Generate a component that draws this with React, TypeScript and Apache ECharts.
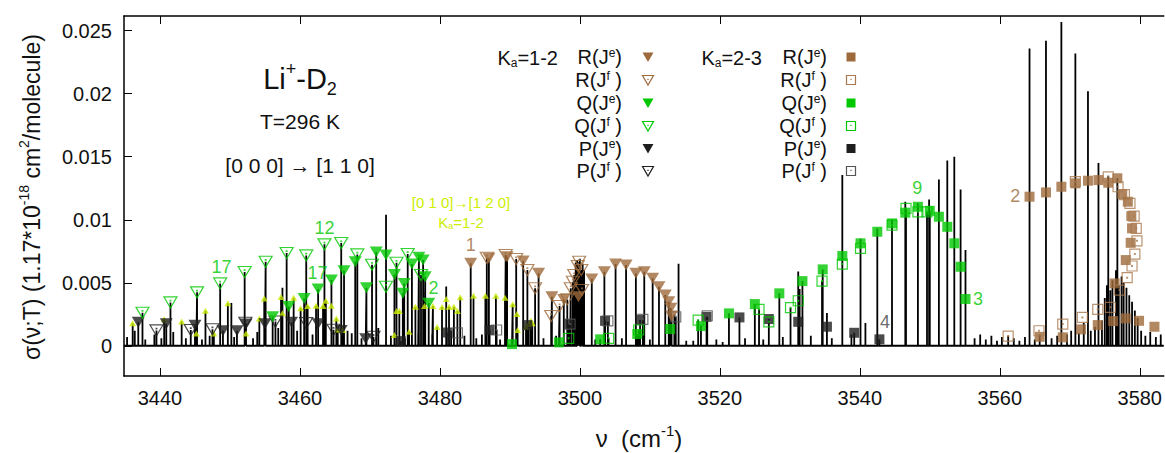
import React, { useEffect, useRef } from "react";
import * as echarts from "echarts";

const FONT = "'Liberation Sans', Arial, Helvetica, sans-serif";
const BROWN = "#9e6a3b";
const BROWN_H = "#a8784e";
const GREEN = "#00c800";
const BLACK = "#1e1e1e";
const GRAY = "#555555";
const YELLOW = "#ccee00";

const xTicks = [3440, 3460, 3480, 3500, 3520, 3540, 3560, 3580];
const yTicks = [0, 0.005, 0.01, 0.015, 0.02, 0.025];
const X_MIN = 3434.86;
const X_MAX = 3583.43;
const Y_MIN = -0.0024;
const Y_MAX = 0.02617;

// Ka = 1-2 (triangles)
const ka12_RJe: number[][] = [[3484.4,0.00654],[3487.0,0.00694],[3489.6,0.00706],[3491.9,0.00672],[3494.1,0.00575],[3496.0,0.00389],[3497.7,0.00368],[3499.8,0.00389],[3501.7,0.00529],[3503.5,0.00587],[3505.1,0.00648],[3506.6,0.0064],[3508.0,0.00575],[3509.2,0.00587],[3510.4,0.00535],[3511.3,0.00468],[3512.2,0.00402],[3512.7,0.00349],[3513.0,0.00297],[3513.1,0.00236]];
const ka12_RJf: number[][] = [[3486.7,0.00698],[3489.4,0.0072],[3490.9,0.00688],[3492.5,0.00601],[3493.6,0.00456],[3495.9,0.00236],[3497.1,0.00315],[3498.2,0.00368],[3498.7,0.00456],[3499.0,0.00508],[3499.2,0.00561],[3499.7,0.00633],[3499.9,0.00667],[3500.2,0.00601],[3500.3,0.00442]];
const ka12_QJe: number[][] = [[3456.1,0.0023],[3458.4,0.00311],[3460.6,0.00376],[3462.6,0.0045],[3464.5,0.00521],[3466.3,0.00595],[3467.9,0.00667],[3469.5,0.0046],[3470.9,0.00744],[3472.3,0.0072],[3473.5,0.00565],[3474.7,0.00416],[3474.9,0.00495],[3476.0,0.00648],[3477.0,0.00702],[3477.6,0.0068],[3477.9,0.00548],[3478.4,0.00337]];
const ka12_QJf: number[][] = [[3437.5,0.00262],[3441.5,0.00344],[3445.3,0.00424],[3448.6,0.00495],[3452.1,0.00585],[3455.1,0.00667],[3458.1,0.00736],[3460.9,0.00717],[3463.5,0.00805],[3465.9,0.00815],[3468.2,0.00725],[3470.3,0.00643],[3472.3,0.00468],[3473.8,0.00659],[3475.4,0.00728],[3477.3,0.00561]];
const ka12_PJe: number[][] = [[3436.9,0.00187],[3440.9,0.00175],[3445.0,0.00162],[3449.0,0.00119],[3451.0,0.00119],[3452.3,0.00172],[3455.0,0.00175],[3458.8,0.00187],[3462.6,0.00175],[3465.9,0.00122],[3469.4,0.00056]];
const ka12_PJf: number[][] = [[3439.5,0.00122],[3444.4,0.00125],[3447.5,0.00131],[3452.2,0.00183],[3456.5,0.00192],[3460.9,0.0018],[3464.8,0.00127],[3470.5,0.00071]];

// Ka = 2-3 (squares)
const ka23_RJe: number[][] = [[3564.25,0.01183],[3566.6,0.01217],[3568.8,0.01262],[3570.8,0.01289],[3572.6,0.0131],[3574.1,0.01315],[3575.5,0.01294],[3576.8,0.01329],[3577.5,0.01204],[3578.3,0.01143],[3578.8,0.01029],[3578.9,0.00932],[3578.7,0.00817],[3578.0,0.0068],[3576.4,0.00495],[3565.7,0.00071],[3569.0,0.00067],[3571.6,0.0013],[3574.0,0.00164],[3576.2,0.00196],[3578.0,0.00217],[3579.9,0.00198],[3582.1,0.00151]];
const ka23_RJf: number[][] = [[3570.8,0.01302],[3575.5,0.01341],[3576.9,0.01262],[3577.8,0.012],[3578.6,0.0113],[3579.2,0.01029],[3579.5,0.00932],[3579.6,0.00833],[3579.3,0.00728],[3578.9,0.00633],[3578.2,0.0054],[3577.1,0.00442],[3561.2,0.00077],[3565.6,0.00119],[3569.0,0.00172],[3571.8,0.00225],[3574.0,0.00289],[3575.8,0.00305]];
const ka23_QJe: number[][] = [[3490.3,0.00013],[3497.0,0.00027],[3502.9,0.00051],[3508.2,0.00093],[3512.9,0.00133],[3517.3,0.00156],[3521.3,0.00257],[3525.0,0.00331],[3528.5,0.00416],[3531.8,0.00513],[3534.7,0.00606],[3537.5,0.00712],[3540.1,0.00813],[3542.5,0.00905],[3544.6,0.00971],[3546.5,0.01056],[3548.3,0.01103],[3550.0,0.01071],[3551.3,0.01024],[3552.5,0.00944],[3553.5,0.00813],[3554.4,0.00627],[3555.1,0.00371]];
const ka23_QJf: number[][] = [[3498.4,0.00059],[3504.1,0.00059],[3508.4,0.00125],[3516.9,0.00204],[3525.6,0.00289],[3527.0,0.0019],[3530.1,0.00302],[3531.2,0.00357],[3534.6,0.00513],[3537.5,0.00648],[3540.1,0.00773],[3544.6,0.00958],[3546.6,0.0109],[3548.3,0.01063],[3549.6,0.01063]];
const ka23_PJe: number[][] = [[3474.4,0.00037],[3481.0,0.00105],[3487.1,0.00125],[3492.5,0.00164],[3498.4,0.00172],[3503.6,0.00198],[3508.6,0.00204],[3518.1,0.0023],[3522.8,0.00225],[3527.0,0.00212],[3531.2,0.0019],[3535.3,0.00151],[3539.2,0.00103],[3542.8,0.00051]];
const ka23_PJf: number[][] = [[3482.5,0.00103],[3488.1,0.00125],[3498.6,0.00172],[3504.0,0.00198],[3509.0,0.0021],[3513.7,0.0023],[3518.2,0.00238]];

// [0 1 0] -> [1 2 0], Ka = 1-2 hot band (small triangles)
const hotBand: number[][] = [[3436.1,0.00178],[3440.6,0.0021],[3443.1,0.00192],[3445.2,0.00097],[3446.5,0.00278],[3447.7,0.00098],[3449.7,0.00337],[3452.3,0.00098],[3454.2,0.00217],[3454.9,0.00376],[3457.3,0.00387],[3457.5,0.00257],[3459.1,0.00381],[3460.1,0.00297],[3461.1,0.00315],[3462.3,0.00317],[3463.3,0.00315],[3463.7,0.00357],[3464.5,0.00317],[3465.2,0.00217],[3465.4,0.0013],[3466.1,0.00125],[3473.5,0.00085],[3473.8,0.00275],[3474.2,0.00275],[3475.6,0.00111],[3476.5,0.0031],[3477.8,0.00315],[3479.0,0.00315],[3479.6,0.00148],[3480.3,0.00307],[3480.9,0.00371],[3481.3,0.0031],[3482.0,0.0031],[3482.5,0.00275],[3482.9,0.00384],[3484.8,0.00397],[3486.5,0.00397],[3488.0,0.00397],[3489.3,0.00381],[3490.4,0.00329],[3491.0,0.00252],[3491.1,0.00125],[3492.3,0.00151],[3492.7,0.00172],[3493.0,0.00198],[3493.2,0.00178]];

// unassigned lines of the stick spectrum [nu, sigma]
const otherLines: number[][] = [[3435.3,0.0007],[3436.4,0.0012],[3437.9,0.0005],[3439.2,0.0009],[3440.2,0.0006],[3441.9,0.0011],[3443.7,0.0006],[3446.0,0.0005],[3447.1,0.0008],[3450.2,0.0034],[3450.6,0.0007],[3453.3,0.0006],[3453.9,0.0011],[3456.9,0.0014],[3457.5,0.0046],[3459.6,0.0012],[3461.8,0.0009],[3466.8,0.0012],[3467.4,0.001],[3468.8,0.0006],[3471.2,0.0014],[3472.3,0.0104],[3473.0,0.0008],[3475.0,0.0006],[3476.9,0.0009],[3478.9,0.0009],[3480.9,0.0047],[3481.6,0.0012],[3483.5,0.0008],[3485.2,0.0006],[3486.0,0.0009],[3488.6,0.0005],[3494.8,0.0006],[3496.6,0.0008],[3499.4,0.0066],[3499.6,0.0068],[3500.0,0.0069],[3500.4,0.0065],[3500.6,0.006],[3502.2,0.0005],[3506.0,0.0006],[3510.0,0.0005],[3513.5,0.0025],[3514.1,0.0065],[3515.2,0.0004],[3516.2,0.0004],[3519.5,0.0005],[3520.4,0.0003],[3523.6,0.0006],[3526.2,0.0005],[3529.0,0.0007],[3531.2,0.0059],[3531.4,0.0045],[3533.0,0.0008],[3535.3,0.0026],[3536.0,0.0006],[3537.5,0.01355],[3538.8,0.0009],[3540.1,0.0085],[3540.8,0.0018],[3542.5,0.0093],[3544.6,0.01],[3546.5,0.01143],[3548.3,0.0113],[3549.9,0.0116],[3551.3,0.0132],[3552.5,0.0147],[3553.5,0.015],[3554.4,0.0124],[3555.1,0.0076],[3556.4,0.0006],[3557.2,0.0009],[3558.0,0.0005],[3558.8,0.0008],[3559.6,0.0004],[3560.3,0.0007],[3561.2,0.0008],[3562.0,0.0006],[3562.8,0.0004],[3563.6,0.0007],[3564.25,0.0236],[3565.0,0.0005],[3565.7,0.0009],[3566.6,0.0242],[3567.4,0.0006],[3568.2,0.0008],[3568.8,0.0257],[3569.6,0.0009],[3570.2,0.0012],[3570.8,0.0232],[3571.3,0.001],[3572.0,0.0018],[3572.6,0.0202],[3573.0,0.0012],[3573.6,0.0015],[3574.1,0.0145],[3574.6,0.002],[3575.0,0.0038],[3575.3,0.0048],[3575.5,0.0135],[3575.8,0.0044],[3576.1,0.0052],[3576.6,0.006],[3576.8,0.0133],[3577.0,0.0048],[3577.4,0.0055],[3577.7,0.005],[3578.1,0.0046],[3578.5,0.004],[3578.9,0.0035],[3579.3,0.0028],[3579.7,0.0022],[3580.2,0.0012],[3580.8,0.0008],[3581.5,0.0011],[3582.3,0.0007],[3583.0,0.0009]];

// line-number annotations [nu, sigma]
const annotations: { at: number[]; text: string; color: string }[] = [
  { at: [3448.8, 0.00627], text: "17", color: GREEN },
  { at: [3463.5, 0.00934], text: "12", color: GREEN },
  { at: [3462.5, 0.00577], text: "17", color: GREEN },
  { at: [3479.1, 0.00458], text: "2", color: GREEN },
  { at: [3484.4, 0.0080], text: "1", color: BROWN },
  { at: [3548.2, 0.01252], text: "9", color: GREEN },
  { at: [3556.9, 0.00371], text: "3", color: GREEN },
  { at: [3543.6, 0.00188], text: "4", color: "#444444" },
  { at: [3562.2, 0.01188], text: "2", color: BROWN },
];

const TRI = "path://M0,0L20,0L10,17Z";
const TRI_H = "path://M0,0L20,0L10,17ZM9.5,5.2L10.5,5.2L10.5,6.2L9.5,6.2Z";
const SQ_H = "path://M0,0L10,0L10,10L0,10ZM4.6,4.6L5.4,4.6L5.4,5.4L4.6,5.4Z";

function scatter(name: string, data: number[][], symbol: string, size: number[], color: string, hollow: boolean) {
  return {
    type: "scatter",
    name,
    data,
    symbol,
    symbolSize: size,
    z: 3,
    silent: true,
    itemStyle: hollow
      ? { color: "rgba(0,0,0,0)", borderColor: color, borderWidth: 1.2 }
      : { color, borderWidth: 0 },
  };
}

function richStyles(size: number, color: string, lh: number) {
  return {
    n: { fontSize: size, fontFamily: FONT, color, lineHeight: Math.round(size * lh) },
    sup: { fontSize: Math.round(size * 0.62), fontFamily: FONT, color, verticalAlign: "top", lineHeight: Math.round(size * 0.62) },
    sub: { fontSize: Math.round(size * 0.62), fontFamily: FONT, color, verticalAlign: "bottom", lineHeight: Math.round(size * 0.62) },
  };
}

function rtext(x: number, y: number, text: string, size: number, color: string, align = "center", rotation = 0, lh = 1.3) {
  return {
    type: "text",
    x,
    y,
    rotation,
    silent: true,
    z: 10,
    style: {
      text,
      rich: richStyles(size, color, lh),
      fill: color,
      align,
      verticalAlign: "middle",
    },
  };
}

function legendMarker(kind: string, x: number, y: number, color: string, hollow: boolean) {
  const els: any[] = [];
  const style = hollow
    ? { fill: "none", stroke: color, lineWidth: 1.2 }
    : { fill: color, stroke: "none" };
  if (kind === "tri") {
    els.push({ type: "polygon", shape: { points: [[x - 5.5, y - 4.5], [x + 5.5, y - 4.5], [x, y + 5]] }, style, silent: true, z: 10 });
  } else {
    els.push({ type: "rect", shape: { x: x - 4.5, y: y - 4.5, width: 9, height: 9 }, style, silent: true, z: 10 });
  }
  if (hollow) {
    els.push({ type: "rect", shape: { x: x - 0.6, y: y - 1.2, width: 1.2, height: 1.2 }, style: { fill: color }, silent: true, z: 10 });
  }
  return els;
}

const legendRows = [
  "{n|R(J}{sup|e}{n|)}",
  "{n|R(J}{sup|f}{n| )}",
  "{n|Q(J}{sup|e}{n|)}",
  "{n|Q(J}{sup|f}{n| )}",
  "{n|P(J}{sup|e}{n|)}",
  "{n|P(J}{sup|f}{n| )}",
];

export default function App() {
  const ref = useRef<HTMLDivElement>(null);
  useEffect(() => {
    if (!ref.current) return;
    const chart = echarts.init(ref.current, null, { renderer: "svg" });

    const stickSources = [ka12_RJe, ka12_RJf, ka12_QJe, ka12_QJf, ka12_PJe, ka12_PJf, ka23_QJe, ka23_QJf, ka23_PJe, ka23_PJf, hotBand, otherLines];
    const lines: number[][] = [];
    stickSources.forEach((s) => s.forEach((p) => lines.push(p)));
    lines.sort((a, b) => a[0] - b[0]);
    const spectrum: number[][] = [[X_MIN, 0]];
    lines.forEach(([x, h]) => {
      spectrum.push([x, 0], [x, h], [x, 0]);
    });
    spectrum.push([X_MAX, 0]);

    const rowY = [57, 80, 103, 126, 148.5, 171];
    const colors12 = [BROWN, BROWN, GREEN, GREEN, BLACK, BLACK];
    const colors23 = [BROWN, BROWN_H, GREEN, GREEN, BLACK, GRAY];
    const graphic: any[] = [];
    graphic.push(rtext(300, 79, "{n|Li}{sup|+}{n|-D}{sub|2}", 29, "#111"));
    graphic.push(rtext(300, 121, "{n|T=296 K}", 21, "#111"));
    graphic.push(rtext(300, 165, "{n|[0 0 0] → [1 1 0]}", 21, "#111"));
    graphic.push(rtext(461, 202, "{n|[0 1 0]→[1 2 0]}", 15, YELLOW, "center", 0, 1.1));
    graphic.push(rtext(461, 222, "{n|K}{sub|a}{n|=1-2}", 15, YELLOW, "center", 0, 1.1));
    graphic.push(rtext(558, 58, "{n|K}{sub|a}{n|=1-2}", 20, "#111", "right", 0, 1.05));
    graphic.push(rtext(762, 58, "{n|K}{sub|a}{n|=2-3}", 20, "#111", "right", 0, 1.05));
    legendRows.forEach((t, i) => {
      graphic.push(rtext(622, rowY[i], t, 20, "#111", "right", 0, 1.05));
      graphic.push(rtext(827, rowY[i], t, 20, "#111", "right", 0, 1.05));
      graphic.push(...legendMarker("tri", 648, rowY[i], colors12[i], i % 2 === 1));
      graphic.push(...legendMarker("sq", 851, rowY[i], colors23[i], i % 2 === 1));
    });
    graphic.push(rtext(32, 197, "{n|σ(ν;T) (1.17*10}{sup|-18}{n| cm}{sup|2}{n|/molecule)}", 23, "#111", "center", Math.PI / 2));
    graphic.push(rtext(639, 438, "{n|ν  (cm}{sup|-1}{n|)}", 24, "#111"));

    const axisCommon = {
      type: "value",
      splitLine: { show: false },
      axisLine: { show: true, onZero: false, lineStyle: { color: "#000", width: 1.5 } },
    };

    chart.setOption({
      animation: false,
      backgroundColor: "#ffffff",
      grid: { left: 124, right: 0, top: 16, bottom: 77, containLabel: false },
      xAxis: [
        {
          ...axisCommon,
          position: "bottom",
          min: X_MIN,
          max: X_MAX,
          axisTick: { show: true, inside: true, length: 8, customValues: xTicks, lineStyle: { color: "#000", width: 1 } },
          axisLabel: {
            show: true,
            customValues: xTicks,
            margin: 12,
            fontSize: 20,
            fontFamily: FONT,
            color: "#111",
            formatter: (v: number) => String(Math.round(v)),
          },
        },
        {
          ...axisCommon,
          position: "top",
          min: X_MIN,
          max: X_MAX,
          axisTick: { show: true, inside: true, length: 8, customValues: xTicks, lineStyle: { color: "#000", width: 1 } },
          axisLabel: { show: false },
        },
      ],
      yAxis: {
        ...axisCommon,
        position: "left",
        min: Y_MIN,
        max: Y_MAX,
        axisTick: { show: true, inside: true, length: 8, customValues: yTicks, lineStyle: { color: "#000", width: 1 } },
        axisLabel: {
          show: true,
          customValues: yTicks,
          margin: 12,
          fontSize: 20,
          fontFamily: FONT,
          color: "#111",
          formatter: (v: number) => String(parseFloat(v.toFixed(4))),
        },
      },
      graphic,
      series: [
        {
          type: "line",
          name: "spectrum",
          data: spectrum,
          showSymbol: false,
          symbol: "none",
          silent: true,
          z: 2,
          lineStyle: { color: "#000", width: 1.8, join: "bevel" },
        },
        scatter("hot band Ka=1-2", hotBand, "triangle", [7, 6], YELLOW, false),
        scatter("Ka=1-2 P(Je)", ka12_PJe, TRI, [13, 11], BLACK, false),
        scatter("Ka=1-2 P(Jf)", ka12_PJf, TRI_H, [13, 11], BLACK, true),
        scatter("Ka=2-3 P(Je)", ka23_PJe, "rect", [10, 10], BLACK, false),
        scatter("Ka=2-3 P(Jf)", ka23_PJf, SQ_H, [10, 10], GRAY, true),
        scatter("Ka=1-2 R(Je)", ka12_RJe, TRI, [13, 11], BROWN, false),
        scatter("Ka=1-2 R(Jf)", ka12_RJf, TRI_H, [13, 11], BROWN, true),
        scatter("Ka=1-2 Q(Je)", ka12_QJe, TRI, [13, 11], GREEN, false),
        scatter("Ka=1-2 Q(Jf)", ka12_QJf, TRI_H, [13, 11], GREEN, true),
        scatter("Ka=2-3 Q(Je)", ka23_QJe, "rect", [10, 10], GREEN, false),
        scatter("Ka=2-3 Q(Jf)", ka23_QJf, SQ_H, [10, 10], GREEN, true),
        scatter("Ka=2-3 R(Je)", ka23_RJe, "rect", [10, 10], BROWN, false),
        scatter("Ka=2-3 R(Jf)", ka23_RJf, SQ_H, [10, 10], BROWN_H, true),
        {
          type: "scatter",
          name: "labels",
          symbolSize: 1,
          itemStyle: { color: "rgba(0,0,0,0)" },
          silent: true,
          z: 5,
          data: annotations.map((a) => ({ value: a.at, name: a.text, label: { color: a.color } })),
          label: { show: true, position: "inside", formatter: "{b}", fontSize: 18, fontFamily: FONT },
        },
      ],
    });
    return () => chart.dispose();
  }, []);
  return (
    <div
      ref={ref}
      style={{ position: "absolute", left: 0, top: 0, width: 1165, height: 453, background: "#fff" }}
    />
  );
}
